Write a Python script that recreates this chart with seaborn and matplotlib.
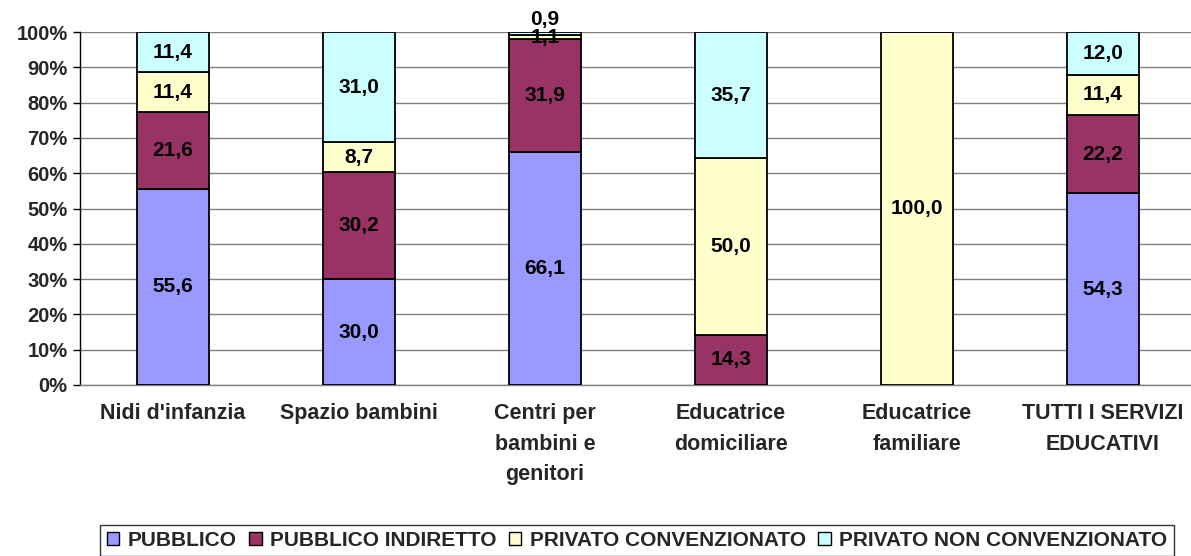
import matplotlib
matplotlib.use("Agg")
import matplotlib.pyplot as plt
import seaborn as sns
import numpy as np
import pandas as pd
from matplotlib.patches import Patch

categories = ["Nidi d'infanzia", "Spazio bambini", "Centri per\nbambini e\ngenitori",
              "Educatrice\ndomiciliare", "Educatrice\nfamiliare", "TUTTI I SERVIZI\nEDUCATIVI"]
series_names = ["PUBBLICO", "PUBBLICO INDIRETTO", "PRIVATO CONVENZIONATO", "PRIVATO NON CONVENZIONATO"]
pubblico = [55.6, 30.0, 66.1, 0.0, 0.0, 54.3]
pubblico_indiretto = [21.6, 30.2, 31.9, 14.3, 0.0, 22.2]
privato_conv = [11.4, 8.7, 1.1, 50.0, 100.0, 11.4]
privato_non_conv = [11.4, 31.0, 0.9, 35.7, 0.0, 12.0]
yticks = [0, 10, 20, 30, 40, 50, 60, 70, 80, 90, 100]
colors = ["#9999FF", "#993366", "#FFFFCC", "#CCFFFF"]

sns.set_theme(style="white")
plt.rcParams['font.family'] = ['Liberation Sans', 'DejaVu Sans']
plt.rcParams['font.weight'] = 'bold'

fig = plt.figure(figsize=(11.91, 5.56), dpi=100)
ax = fig.add_axes([80/1191, (556-385)/556, 1116/1191, 353/556])

series = [pubblico, pubblico_indiretto, privato_conv, privato_non_conv]
bottoms = np.zeros(len(categories))
for name, vals, col in zip(series_names, series, colors):
    df = pd.DataFrame({"cat": categories, "val": vals})
    sns.barplot(data=df, x="cat", y="val", color=col, saturation=1, width=0.39,
                bottom=bottoms, edgecolor="black", linewidth=1.3, ax=ax, zorder=3)
    for i, v in enumerate(vals):
        if v > 0:
            yoff = 0
            if v < 1.0:
                yoff = 10
            ax.annotate(f"{v:.1f}".replace(".", ","), (i, bottoms[i] + v / 2),
                        xytext=(0, yoff), textcoords="offset points",
                        ha="center", va="center", fontsize=15, fontweight="bold",
                        color="black", zorder=5)
    bottoms = bottoms + np.array(vals)

ax.set_xlim(-0.5, 5.5)
ax.set_ylim(0, 100)
ax.set_yticks(yticks)
ax.set_yticklabels([f"{t}%" for t in yticks], fontsize=14.5, fontweight="bold")
ax.tick_params(axis="y", length=5, width=1, color="black", direction="out", left=True, pad=4)
ax.tick_params(axis="x", length=0, pad=13, labelsize=15.5)
for lbl in ax.get_xticklabels():
    lbl.set_fontweight("bold")
    lbl.set_linespacing(1.6)
    lbl.set_va("top")
ax.set_xlabel("")
ax.set_ylabel("")
ax.yaxis.grid(True, color="#808080", linewidth=1)
ax.set_axisbelow(True)
for s in ["top", "right"]:
    ax.spines[s].set_visible(False)
ax.spines["left"].set_color("black")
ax.spines["left"].set_linewidth(1)
ax.spines["bottom"].set_color("#808080")
ax.spines["bottom"].set_linewidth(1)

handles = [Patch(facecolor=c, edgecolor="black", linewidth=1) for c in colors]
leg = fig.legend(handles, series_names, loc="lower center",
                 bbox_to_anchor=(637/1191, 0.0),
                 ncol=4, frameon=True, fancybox=False, fontsize=15,
                 handlelength=0.6, handleheight=0.6, handletextpad=0.4, columnspacing=0.6,
                 borderpad=0.3, borderaxespad=0)
leg.get_frame().set_edgecolor("black")
leg.get_frame().set_linewidth(1)
for t in leg.get_texts():
    t.set_fontweight("bold")

fig.savefig("out.png", dpi=100)
